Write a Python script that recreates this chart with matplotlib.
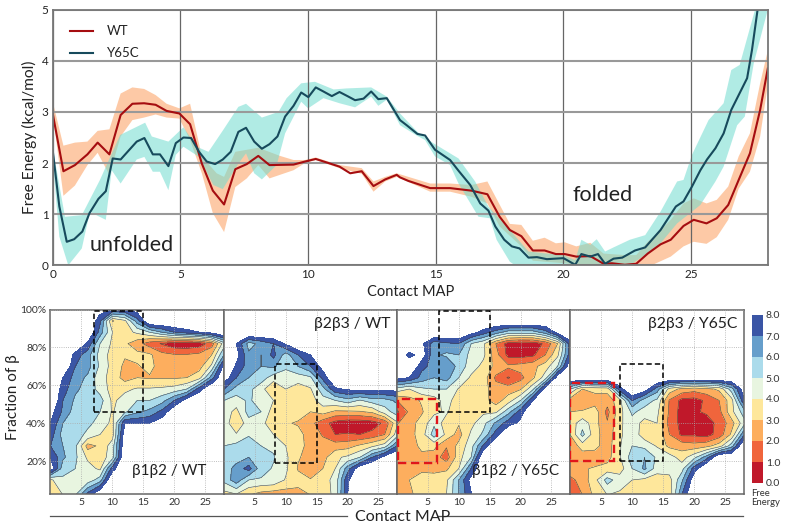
import numpy as np
import matplotlib
matplotlib.use('Agg')
import matplotlib.pyplot as plt
from matplotlib.lines import Line2D
from matplotlib.patches import Rectangle

plt.rcParams['font.family'] = ['Lato', 'DejaVu Sans']

# top panel, free energy profiles
wt_x = [0, .42, .87, 1.36, 1.76, 2.22, 2.66, 3.12, 3.58, 4.03, 4.46, 4.96, 5.38, 5.84, 6.27, 6.71, 7.15, 7.6, 8.05, 8.49, 9.43, 9.88, 10.3, 10.8, 11.23, 11.65, 12.1, 12.56, 13.02, 13.47, 13.6, 13.93, 14.78, 15.56, 16.4, 17.02, 17.5, 17.9, 18.35, 18.8, 19.26, 19.7, 20.05, 20.5, 21.05, 21.57, 21.9, 22.4, 22.85, 23.3, 23.8, 24.2, 24.7, 25.1, 25.6, 26, 26.45, 26.86, 27.3, 27.7, 28]
wt_y = [2.97, 1.84, 1.96, 2.17, 2.40, 2.17, 2.94, 3.16, 3.17, 3.14, 3.02, 2.97, 2.76, 1.99, 1.46, 1.19, 1.88, 1.98, 2.14, 1.96, 1.97, 2.03, 2.08, 2.0, 1.93, 1.8, 1.84, 1.55, 1.68, 1.77, 1.72, 1.65, 1.51, 1.51, 1.46, 1.39, .95, .69, .57, .29, .29, .22, .22, .17, .18, .03, .04, .01, .03, .23, .41, .5, .77, .89, .82, .92, 1.18, 1.67, 2.19, 3.04, 3.85]
wt_up_x = [0, .42, .87, 1.36, 1.76, 2.22, 2.66, 3.12, 3.58, 4.03, 4.46, 4.96, 5.38, 5.84, 6.42, 6.71, 7.15, 8.05, 8.9, 9.43, 9.88, 10.3, 11.23, 12.1, 12.56, 13.02, 13.47, 14.78, 15.56, 16.4, 17.02, 17.9, 18.35, 18.8, 19.26, 19.7, 20.05, 20.5, 21.05, 21.57, 22.4, 22.85, 23.3, 23.8, 24.2, 24.7, 25.1, 25.6, 26, 26.45, 26.86, 27.3, 27.7, 28]
wt_up_y = [3.2, 2.34, 2.40, 2.42, 2.63, 2.66, 3.36, 3.48, 3.45, 3.33, 3.16, 3.07, 3.16, 2.13, 1.8, 1.73, 2.22, 2.30, 2.14, 2.06, 2.06, 2.11, 1.96, 1.90, 1.64, 1.73, 1.8, 1.60, 1.6, 1.57, 1.64, .81, .79, .48, .54, .43, .45, .37, .44, .23, .2, .2, .46, .69, .89, 1.21, 1.31, 1.21, 1.28, 1.54, 2.13, 2.58, 3.56, 4.2]
wt_lo_x = [0, .42, .87, 1.36, 1.76, 2.22, 2.66, 3.12, 3.58, 4.03, 4.46, 4.96, 5.38, 5.84, 6.27, 6.71, 7.15, 7.6, 8.05, 8.49, 9.43, 9.88, 10.3, 11.23, 12.1, 12.56, 13.02, 13.47, 14.78, 15.56, 16.4, 17.02, 17.5, 18.35, 18.8, 19.26, 20.05, 20.6, 23.45, 24.2, 24.7, 25.1, 25.6, 26, 26.45, 26.86, 27.3, 27.7, 28]
wt_lo_y = [2.97, 1.36, 1.56, 1.96, 2.2, 1.77, 2.52, 2.84, 2.89, 2.95, 2.89, 2.87, 2.45, 1.8, 1.02, .65, 1.53, 1.7, 1.96, 1.7, 1.86, 2.0, 2.06, 1.9, 1.79, 1.44, 1.64, 1.73, 1.44, 1.44, 1.34, 1.21, .76, .37, .09, .07, .04, 0, 0, .17, .37, .46, .42, .55, .89, 1.5, 1.83, 2.52, 3.53]

y65c_x = [0, .26, .55, .84, 1.16, 1.44, 1.79, 2.08, 2.35, 2.66, 3.29, 3.59, 3.92, 4.2, 4.53, 4.82, 5.12, 5.42, 5.73, 6.03, 6.36, 6.66, 6.97, 7.27, 7.57, 7.89, 8.19, 8.49, 8.8, 9.1, 9.43, 9.73, 10.01, 10.3, 10.6, 10.93, 11.23, 11.54, 11.84, 12.17, 12.47, 12.75, 13.08, 13.6, 13.86, 14.28, 14.58, 14.97, 15.56, 15.89, 16.35, 16.74, 17.06, 17.33, 17.68, 17.98, 18.28, 18.63, 18.96, 19.35, 20, 20.46, 20.7, 21.05, 21.35, 21.63, 21.96, 22.3, 22.8, 23.2, 23.8, 24.4, 24.7, 25.03, 25.36, 25.62, 25.95, 26.27, 26.57, 26.86, 27.19, 27.38, 27.6, 27.7]
y65c_y = [2.25, 1.15, .46, .51, .66, 1.02, 1.30, 1.45, 2.09, 2.07, 2.42, 2.49, 2.17, 2.17, 1.94, 2.39, 2.50, 2.49, 2.22, 2.03, 1.98, 2.07, 2.22, 2.61, 2.69, 2.42, 2.28, 2.37, 2.52, 2.91, 3.12, 3.38, 3.29, 3.48, 3.40, 3.31, 3.39, 3.31, 3.23, 3.26, 3.40, 3.25, 3.27, 2.84, 2.74, 2.57, 2.54, 2.26, 2.06, 1.85, 1.57, 1.21, 1.07, .76, .50, .37, .33, .15, .16, .12, .14, .01, .22, .17, .22, .03, .13, .15, .29, .35, .69, 1.15, 1.25, 1.54, 1.86, 2.07, 2.29, 2.58, 3.04, 3.33, 3.66, 4.21, 5.0, 5.6]
y65c_up_x = [0, .48, 1.14, 1.85, 2.64, 3.62, 3.88, 4.53, 5.12, 5.64, 6.1, 6.68, 7.27, 7.57, 8.19, 8.84, 9.16, 9.73, 10.27, 11, 11.5, 12.47, 13.08, 13.6, 14.28, 14.9, 15.89, 16.54, 17.06, 17.9, 18.63, 19.35, 20, 20.46, 20.7, 21.05, 21.3, 21.63, 21.96, 22.6, 23.2, 23.8, 24.45, 24.7, 25.03, 25.68, 26.27, 26.57, 26.9, 27.5, 27.7]
y65c_up_y = [2.3, .95, .98, 1.67, 2.55, 2.79, 2.52, 2.42, 2.70, 2.32, 2.22, 2.65, 3.1, 3.16, 2.89, 3.0, 3.27, 3.56, 3.59, 3.44, 3.46, 3.48, 3.3, 2.97, 2.61, 2.39, 2.09, 1.64, 1.15, .69, .27, .23, .20, .10, .50, .40, .51, .27, .35, .50, .59, 1.05, 1.64, 1.67, 2.16, 2.84, 3.17, 3.82, 3.92, 5.0, 5.6]
y65c_lo_x = [0, .26, .61, 1.14, 1.46, 1.79, 2.08, 2.31, 2.66, 3.29, 3.59, 3.92, 4.2, 4.53, 4.82, 5.12, 5.73, 6.29, 6.66, 7.27, 7.57, 7.89, 8.19, 8.77, 9.1, 9.73, 10, 10.6, 11.23, 11.84, 12.47, 12.75, 13.08, 13.6, 14.28, 14.58, 14.97, 15.56, 15.89, 16.67, 17.12, 17.38, 17.9, 18.1, 22.6, 23.1, 23.8, 24.45, 25.36, 25.95, 26.27, 26.8, 27.1, 27.45, 28]
y65c_lo_y = [2.06, .56, 0, .33, 1.05, .96, .89, 1.86, 1.6, 2.07, 2.12, 1.83, 1.83, 1.47, 2.16, 2.32, 2.12, 1.57, 1.49, 1.99, 2.19, 1.8, 1.68, 1.96, 2.58, 3.2, 3.07, 3.27, 3.17, 3.09, 3.30, 3.12, 3.24, 2.74, 2.53, 2.45, 2.13, 1.96, 1.6, .95, .92, .5, .07, 0, 0, .17, .43, .82, 1.18, 1.64, 1.93, 2.74, 2.91, 3.95, 5.0]

# bottom panels, free energy maps (9.5 = no data)
map_x = [0, 2, 4, 6, 8, 10, 12, 14, 16, 18, 20, 22, 24, 26, 28]
map_y = [100, 94, 88, 82, 76, 70, 64, 58, 52, 46, 40, 34, 28, 22, 16, 10, 2]

map_b1b2_wt = [
    [9.5, 9.5, 9.5, 9.5, 8.6, 8, 8, 8.6, 9.5, 9.5, 9.5, 9.5, 9.5, 9.5, 9.5],
    [9.5, 9.5, 9.5, 9.5, 7.2, 2.9, 3.8, 6.5, 9.5, 9.5, 9.5, 9.5, 9.5, 9.5, 9.5],
    [9.5, 9.5, 9.5, 9.5, 6.5, 4, 3.6, 4.2, 5, 6, 7, 7.5, 8, 8.5, 9.5],
    [9.5, 9.5, 9.5, 7.8, 5, 3.8, 3.2, 2.4, 1.5, .9, .3, .2, .4, 1.5, 4.5],
    [9.5, 9.5, 7.6, 6.4, 4.6, 3.6, 3.1, 3.3, 3.2, 2.3, 2.1, 2.1, 2.3, 3, 6],
    [9.5, 9.5, 7, 6.4, 4.8, 3.6, 2.8, 2.9, 3.3, 2.5, 2.3, 2.3, 2.6, 4.2, 8.5],
    [9.5, 8, 6.5, 5.8, 4.4, 3.6, 2.6, 3, 2.9, 2.9, 2.9, 3, 3.6, 6.5, 9.5],
    [9.5, 7.5, 6.2, 5.6, 4.6, 3.6, 3.8, 4.1, 4.1, 4.2, 4.4, 5, 7.5, 9.5, 9.5],
    [9.5, 7, 5.8, 5.6, 5.4, 3.8, 4.4, 5, 5, 5.6, 7, 8.6, 9.5, 9.5, 9.5],
    [8.5, 6.8, 5.5, 5.5, 5, 3.9, 4.8, 5.8, 6.3, 7.3, 9, 9.5, 9.5, 9.5, 9.5],
    [8, 6, 5.3, 5.2, 4.7, 3.7, 8, 7.9, 8, 8.8, 9.5, 9.5, 9.5, 9.5, 9.5],
    [7.5, 5.6, 5.4, 4.8, 4, 3.6, 8.8, 9.5, 9.5, 9.5, 9.5, 9.5, 9.5, 9.5, 9.5],
    [7, 6, 5.2, 2.6, 3.2, 4.5, 9, 9.5, 9.5, 9.5, 9.5, 9.5, 9.5, 9.5, 9.5],
    [8, 6.2, 5.2, 3.8, 3.4, 4.6, 9.5, 9.5, 9.5, 9.5, 9.5, 9.5, 9.5, 9.5, 9.5],
    [9, 5.4, 5, 4.4, 3.8, 7.5, 9.5, 9.5, 9.5, 9.5, 9.5, 9.5, 9.5, 9.5, 9.5],
    [3.8, 4.8, 4.4, 4.4, 5.5, 9.5, 9.5, 9.5, 9.5, 9.5, 9.5, 9.5, 9.5, 9.5, 9.5],
    [3.2, 4, 5, 7.5, 9.5, 9.5, 9.5, 9.5, 9.5, 9.5, 9.5, 9.5, 9.5, 9.5, 9.5],
]
map_b2b3_wt = [
    [9.5] * 15,
    [9.5] * 15,
    [9.5] * 15,
    [9.5, 8, 5.6, 6.3, 7, 8.2, 9.5, 9.5, 9.5, 9.5, 9.5, 9.5, 9.5, 9.5, 9.5],
    [9.5, 8.5, 6.2, 6, 7.3, 5.5, 7, 8, 9.5, 9.5, 9.5, 9.5, 9.5, 9.5, 9.5],
    [9.5, 7.8, 6.5, 6, 6.2, 5.2, 6, 7, 8.5, 9.5, 9.5, 9.5, 9.5, 9.5, 9.5],
    [8.8, 7, 6, 5.5, 4.5, 4.5, 4.5, 4.8, 7.3, 9.5, 9.5, 9.5, 9.5, 9.5, 9.5],
    [7, 5.6, 5.3, 4.4, 3, 4, 3.5, 3.9, 5.6, 7.8, 8.2, 8.4, 8.4, 8.4, 8.4],
    [5, 4.5, 5.2, 4.4, 4, 3.8, 3.2, 3.5, 4.6, 5, 5.6, 4.9, 5.5, 5.6, 6.2],
    [4.5, 3.7, 5.4, 5, 3.5, 3.2, 3.4, 3, 3.4, 2.8, 2.8, 2.9, 3.2, 4.5, 5.5],
    [4.6, 3.1, 4.6, 4.3, 3.4, 3.1, 2.9, 2.3, 1.4, .6, .3, .3, .5, 1.2, 3.8],
    [4.8, 4.1, 4.9, 5, 4, 3.5, 3.3, 2.6, 1.9, 1, 1.1, 1, 1.3, 2, 4.5],
    [5, 5.3, 5.5, 5, 4.8, 4, 3.3, 2.7, 2.4, 2.5, 2.6, 3.2, 3.8, 4.5, 7],
    [5.4, 5.5, 6, 5.3, 5.1, 4.2, 3.1, 2.6, 2.6, 3.8, 4.2, 5, 7, 8.5, 9.5],
    [5.4, 6.4, 7.4, 5.4, 4.9, 4.2, 2.9, 2.2, 3, 4, 6.5, 9, 9.5, 9.5, 9.5],
    [5.3, 6.6, 5, 4.9, 4.8, 3.9, 3.4, 3.1, 3.6, 4.3, 7.8, 9.5, 9.5, 9.5, 9.5],
    [3.5, 3.8, 3, 2.5, 2.3, 2.4, 2.6, 3, 3.4, 4.3, 8, 9.5, 9.5, 9.5, 9.5],
]
map_b1b2_y65c = [
    [9.5] * 15,
    [9.5] * 15,
    [9.5, 9.5, 9.5, 9.5, 9.5, 9.5, 8.6, 7.5, 6.5, 5.5, 5.5, 5.5, 6.5, 8.5, 9.5],
    [9.5, 9.5, 8.3, 6.4, 6.8, 7, 5, 4.2, 2, .6, .3, .4, 1.2, 3, 7.5],
    [9.5, 7.5, 8.8, 6.2, 5.8, 6, 4.6, 4.2, 2.4, .7, .6, .8, 2, 3.8, 7.5],
    [9.5, 9.5, 7.3, 6.6, 7, 5.6, 4.5, 3.7, 2.7, 2.2, 2.4, 2.7, 3.5, 5, 9],
    [8.5, 8, 6.6, 6, 6.4, 5, 3.8, 3.5, 1.8, .9, 1.7, 2.8, 4.5, 8.8, 9.5],
    [4.6, 4, 4.8, 5, 5, 3.9, 4, 3.4, 2.4, 2.5, 2.9, 4.8, 8.6, 9.5, 9.5],
    [2, 2.6, 3.1, 3.5, 4.5, 3.3, 3.5, 3.4, 2.5, 3.5, 5, 8, 9.5, 9.5, 9.5],
    [.8, 2.2, 2.9, 3.7, 4.2, 3, 3.3, 3.8, 3.8, 5.6, 7.5, 9.5, 9.5, 9.5, 9.5],
    [1.9, 2.7, 3.3, 4.8, 3.4, 3.1, 3.7, 4.7, 6.2, 7.5, 8.3, 9.5, 9.5, 9.5, 9.5],
    [2.6, 2.6, 3.5, 5.5, 3.7, 2.6, 4.2, 5.2, 7.5, 9.5, 9.5, 9.5, 9.5, 9.5, 9.5],
    [2.6, 2.4, 3.3, 3.3, 2.1, 3.3, 4.6, 7.2, 9.5, 9.5, 9.5, 9.5, 9.5, 9.5, 9.5],
    [2.6, 2.3, 2.7, 2.5, 1.5, 3.6, 5, 9.5, 9.5, 9.5, 9.5, 9.5, 9.5, 9.5, 9.5],
    [3, 2.3, 2.8, 2.8, 2.8, 4, 7, 9.5, 9.5, 9.5, 9.5, 9.5, 9.5, 9.5, 9.5],
    [2.8, 3, 3.4, 3.3, 3.8, 6, 8.5, 9.5, 9.5, 9.5, 9.5, 9.5, 9.5, 9.5, 9.5],
    [2, 2.8, 3.4, 3.3, 4, 6, 7.9, 9.5, 9.5, 9.5, 9.5, 9.5, 9.5, 9.5, 9.5],
]
map_b2b3_y65c = [
    [9.5] * 15,
    [9.5] * 15,
    [9.5] * 15,
    [9.5] * 15,
    [9.5] * 15,
    [9.5] * 15,
    [9.5] * 15,
    [5, 3, 3.3, 3.4, 7.5, 9.5, 8.7, 6.5, 3.6, 2.7, 2.4, 2.7, 3.2, 5.5, 8.8],
    [2.5, 2.3, 2.5, 2.4, 3.6, 7, 5.5, 4.8, 1.9, .7, .6, 1.2, 2, 3.6, 7.8],
    [3, 3.1, 3.5, 1.7, 3.6, 5.2, 4.6, 4.3, 1.8, .6, .9, 1.1, 1.7, 3.7, 5.5],
    [3.4, 4.6, 3.4, 2.1, 3.8, 4.6, 3.6, 4, 1.6, .7, .9, .7, 1.2, 2.6, 4.6],
    [3, 5.3, 3.4, 2.4, 3.8, 4.7, 3.4, 3.9, 2, .8, .8, .6, 1.4, 3.2, 6.8],
    [2.2, 3.5, 3.3, 2.5, 3.9, 5, 4.7, 3.9, 2.7, 2.6, 2.4, 2.7, 3.5, 5.5, 9.5],
    [2.2, 2.4, 2.5, 2.6, 3.9, 5.5, 6, 4.8, 4.5, 3.5, 4.7, 6.5, 9.5, 9.5, 9.5],
    [2.6, 2.9, 3.1, 3.4, 3.5, 5, 6.2, 4.5, 4.5, 4.6, 7.5, 9.5, 9.5, 9.5, 9.5],
    [1.7, 2.4, 3.7, 5.4, 4.5, 4, 3.7, 3.4, 3.6, 5.8, 8.8, 9.5, 9.5, 9.5, 9.5],
    [1, 2, 3.3, 4, 3.8, 3.2, 3.1, 3.1, 3.3, 7, 9.5, 9.5, 9.5, 9.5, 9.5],
]
map_names = ['\u03b21\u03b22 / WT', '\u03b22\u03b23 / WT', '\u03b21\u03b22 / Y65C', '\u03b22\u03b23 / Y65C']
# dashed boxes: x0, x1, y0, y1, colour
map_boxes = [
    [(7, 15, 46, 99, 'black')],
    [(8.3, 15, 19, 71, 'black')],
    [(6.8, 15, 46, 99, 'black'), (.1, 6.5, 19, 53, '#e0151b')],
    [(8, 15, 20, 71, 'black'), (0, 7, 20, 61, '#e0151b')],
]
levels = [0, 1, 2, 3, 4, 5, 6, 7, 8]
level_colors = ['#c0182a', '#f0653c', '#fdae5e', '#fee79b', '#e8f5e0', '#abdbeb', '#669ecb', '#3a55a5']

W, H = 787.0, 528.0

def px_axes(left, top, right, bottom):
    return fig.add_axes([left / W, 1 - bottom / H, (right - left) / W, (bottom - top) / H])

fig = plt.figure(figsize=(7.87, 5.28), dpi=100)

ax = px_axes(52.7, 9.7, 767.8, 265.3)
ax.fill(wt_up_x + wt_lo_x[::-1], wt_up_y + wt_lo_y[::-1], color='#fdc49c', alpha=.9, lw=0)
ax.fill(y65c_up_x + y65c_lo_x[::-1], y65c_up_y + y65c_lo_y[::-1], color='#70dccf', alpha=.55, lw=0)
ax.plot(wt_x, wt_y, color='#a50d10', lw=1.5, label='WT')
ax.plot(y65c_x, y65c_y, color='#174a5c', lw=1.5, label='Y65C')
ax.set_xlim(0, 28)
ax.set_ylim(0, 5)
ax.set_xticks([0, 5, 10, 15, 20, 25])
ax.set_yticks([0, 1, 2, 3, 4, 5])
ax.xaxis.grid(True, color='#666666', lw=.9)
ax.yaxis.grid(True, color='#999999', lw=1.5)
ax.tick_params(length=0, labelsize=8.5, colors='#222222', pad=3)
for s in ax.spines.values():
    s.set_color('#777777')
    s.set_linewidth(1.3)
ax.set_xlabel('Contact MAP', fontsize=10.5, color='#222222', labelpad=3)
ax.set_ylabel('Free Energy (kcal/mol)', fontsize=11.2, color='#222222', labelpad=3)
ax.text(1.45, .4, 'unfolded', fontsize=15.5, color='#222222', va='center')
ax.text(20.35, 1.38, 'folded', fontsize=15.5, color='#222222', va='center')
ax.legend(loc='upper left', frameon=False, fontsize=9.5, handlelength=1.7, handletextpad=1.1,
          labelspacing=.75, bbox_to_anchor=(.008, .985), labelcolor='#222222')

edges = [50.5, 224, 397, 570, 744]
text_right = [.90, .96, .94, .96]
for i, grid in enumerate([map_b1b2_wt, map_b2b3_wt, map_b1b2_y65c, map_b2b3_y65c]):
    a = px_axes(edges[i], 309.5, edges[i + 1], 494)
    Z = np.array(grid, dtype=float)
    cf = a.contourf(map_x, map_y, Z, levels=levels, colors=level_colors)
    a.contour(map_x, map_y, Z, levels=levels[1:-1], colors='#444444', linewidths=.4)
    a.set_xlim(0, 28)
    a.set_ylim(2.6, 100)
    a.set_xticks([5, 10, 15, 20, 25])
    a.set_yticks([20, 40, 60, 80, 100])
    a.set_yticklabels(['20%', '40%', '60%', '80%', '100%'])
    if i > 0:
        a.tick_params(labelleft=False)
    a.grid(True, color='#aaaaaa', lw=.6, ls=':')
    a.set_axisbelow(False)
    a.tick_params(length=0, labelsize=7.5, colors='#333333', pad=3)
    for s in a.spines.values():
        s.set_color('#666666')
        s.set_linewidth(1.1)
    for x0, x1, y0, y1, col in map_boxes[i]:
        lw = 1.1 if col == 'black' else 1.7
        a.add_patch(Rectangle((x0, y0), x1 - x0, y1 - y0, fill=False, ec=col, lw=lw, ls=(0, (3.5, 2)), zorder=5))
    if i % 2 == 0:
        a.text(text_right[i], .125, map_names[i], transform=a.transAxes, ha='right', va='center', fontsize=11, color='#222222')
    else:
        a.text(text_right[i], .92, map_names[i], transform=a.transAxes, ha='right', va='center', fontsize=11.3, color='#222222')

fig.text(13.5 / W, 1 - 397 / H, 'Fraction of \u03b2', rotation=90, ha='center', va='center', fontsize=11, color='#222222')
fig.text(403 / W, 1 - 517 / H, 'Contact MAP', ha='center', va='center', fontsize=11.5, color='#222222')
fig.add_artist(Line2D([50 / W, 347 / W], [1 - 516 / H] * 2, color='#555555', lw=.9))
fig.add_artist(Line2D([438 / W, 743 / W], [1 - 516 / H] * 2, color='#555555', lw=.9))

cax = px_axes(752, 315, 763, 483)
cb = fig.colorbar(cf, cax=cax)
cb.set_ticks(levels)
cb.set_ticklabels(['%.1f' % v for v in levels])
cb.ax.tick_params(length=0, labelsize=7.5, colors='#333333', pad=2)
cb.outline.set_visible(False)
fig.text(751 / W, 1 - 498 / H, 'Free\nEnergy', ha='left', va='center', fontsize=6.8, color='#333333', linespacing=1.0)

fig.savefig('out.png', dpi=100)
